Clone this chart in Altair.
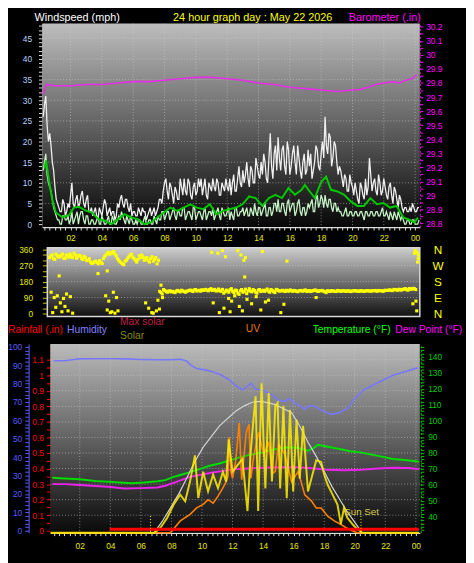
import altair as alt
import pandas as pd

W, H = 466, 555
FONT = "Liberation Sans"

# ---------------- data ----------------
# wind samples every 10 minutes from 00:15, plus the samples 5 minutes later
slot_start = 0.25
slot_minutes = 10

wind_gust = [
    26, 31, 20, 19, 13, 6,
    4, 3, 5, 3, 4, 10,
    4, 7, 5, 8, 4, 7,
    3, 2, 4, 1, 3, 4,
    5, 3, 2, 3, 2, 4,
    7, 4, 6, 3, 2, 3,
    2, 3, 4, 3, 2, 4,
    3, 2, 4, 6, 8, 11,
    6, 9, 5, 8, 6, 9,
    11, 7, 10, 6, 10, 8,
    9, 7, 11, 6, 9, 11,
    8, 10, 7, 9, 11, 8,
    7, 12, 8, 14, 9, 10,
    15, 9, 13, 10, 14, 11,
    12, 15, 10, 22, 11, 19,
    21, 13, 19, 12, 18, 14,
    19, 12, 16, 11, 17, 13,
    14, 11, 15, 18, 13, 20,
    26, 17, 21, 16, 19, 12,
    13, 9, 11, 8, 10, 7,
    8, 5, 9, 6, 7, 16,
    8, 11, 7, 10, 8, 9,
    6, 10, 5, 8, 4, 6,
    3, 4, 3, 3, 4, 3,
    4,
]
wind_gust_b = [
    29, 24, 22, 15, 9, 5,
    3, 6, 2, 5, 7, 5,
    6, 4, 7, 5, 6, 3,
    4, 3, 2, 4, 2, 6,
    2, 4, 3, 1, 5, 6,
    5, 6, 4, 5, 3, 2,
    4, 2, 3, 1, 3, 2,
    4, 3, 6, 5, 10, 8,
    10, 7, 9, 6, 11, 7,
    8, 11, 7, 9, 7, 11,
    11, 9, 7, 10, 8, 9,
    11, 7, 10, 8, 9, 11,
    10, 8, 11, 10, 13, 12,
    11, 14, 10, 16, 12, 15,
    17, 11, 16, 14, 17, 13,
    16, 18, 14, 20, 12, 17,
    15, 19, 13, 15, 12, 18,
    17, 13, 19, 14, 17, 16,
    19, 22, 14, 20, 15, 14,
    11, 12, 8, 12, 9, 10,
    6, 10, 7, 11, 9, 12,
    10, 8, 12, 7, 11, 7,
    9, 7, 9, 6, 7, 4,
    4, 3, 4, 5, 3, 4,
]

wind_speed = [
    13, 17, 10, 8, 4, 2,
    1, 0, 2, 1, 0, 3,
    1, 3, 2, 3, 0, 2,
    0, 1, 0, 2, 0, 1,
    0, 2, 0, 1, 0, 2,
    3, 1, 2, 0, 1, 0,
    0, 1, 0, 2, 0, 1,
    0, 1, 2, 1, 3, 2,
    3, 2, 4, 1, 3, 2,
    4, 2, 3, 1, 4, 2,
    3, 1, 4, 2, 3, 4,
    2, 4, 1, 3, 2, 4,
    3, 1, 4, 2, 3, 2,
    4, 2, 3, 5, 2, 4,
    3, 5, 2, 4, 3, 5,
    6, 3, 5, 2, 6, 4,
    5, 3, 6, 2, 4, 3,
    4, 6, 3, 7, 5, 6,
    7, 4, 6, 3, 5, 4,
    3, 2, 4, 2, 3, 2,
    3, 2, 3, 1, 3, 2,
    3, 2, 3, 2, 4, 2,
    2, 3, 1, 2, 3, 1,
    1, 0, 1, 0, 1, 0,
    1,
]
wind_speed_b = [
    15, 12, 9, 6, 3, 1,
    0, 2, 1, 2, 1, 0,
    2, 0, 3, 1, 2, 0,
    1, 0, 1, 0, 2, 0,
    1, 0, 2, 0, 1, 1,
    2, 0, 1, 2, 0, 1,
    1, 0, 1, 0, 1, 0,
    2, 0, 1, 3, 1, 3,
    1, 3, 2, 3, 2, 4,
    1, 3, 2, 4, 1, 3,
    2, 3, 1, 3, 2, 1,
    3, 2, 4, 2, 3, 1,
    2, 4, 2, 3, 4, 3,
    2, 4, 2, 3, 4, 2,
    4, 2, 4, 2, 5, 3,
    3, 5, 3, 5, 3, 5,
    2, 5, 3, 4, 2, 5,
    5, 3, 6, 4, 7, 4,
    5, 6, 4, 5, 3, 3,
    2, 3, 2, 3, 2, 3,
    2, 3, 2, 3, 2, 3,
    2, 3, 2, 3, 2, 3,
    1, 2, 3, 1, 2, 2,
    0, 1, 0, 1, 0, 0,
]

wind_avg_hours = [0.33, 0.43, 0.64, 0.85, 1.06, 1.48, 1.89, 2.21, 2.52, 2.94, 3.36, 3.78,
                  4.20, 4.62, 5.03, 5.45, 5.87, 6.29, 6.71, 7.13, 7.54, 7.96, 8.38, 8.80,
                  9.22, 9.64, 10.06, 10.47, 10.89, 11.31, 11.73, 12.15, 12.57, 12.98, 13.40,
                  13.82, 14.24, 14.66, 15.08, 15.50, 15.91, 16.33, 16.75, 16.96, 17.27, 17.59,
                  18.01, 18.32, 18.63, 19.05, 19.47, 19.89, 20.31, 20.73, 21.14, 21.56, 21.98,
                  22.40, 22.82, 23.24, 23.66, 23.97, 24.18]
wind_avg = [13.5, 15.4, 10.0, 5.5, 2.8, 1.6, 2.2, 4.0, 4.2, 3.3, 2.8, 1.2,
            0.8, 0.0, 1.2, 2.4, 1.6, 1.2, 0.0, 0.4, 1.6, 2.8, 4.0, 3.2,
            4.0, 4.8, 4.0, 3.6, 4.8, 2.4, 3.2, 3.6, 4.0, 4.8, 6.7,
            6.3, 4.4, 6.3, 7.1, 6.3, 8.7, 7.1, 8.3, 9.5, 7.9, 6.3,
            10.3, 11.5, 8.3, 7.9, 7.1, 5.5, 4.4, 4.4, 6.3, 4.8, 5.1,
            4.0, 4.4, 1.6, 1.0, 0.4, 1.6]

baro_hours = [0.25, 0.45, 1, 2, 3, 4, 5, 6, 7, 8, 9, 10, 11, 12, 13, 14, 15, 16, 17,
              18, 19, 20, 20.5, 21, 21.5, 22, 22.6, 23, 23.4, 23.8, 24.1]
baro = [29.72, 29.79, 29.78, 29.78, 29.79, 29.79, 29.80, 29.81, 29.81, 29.82, 29.83,
        29.84, 29.84, 29.83, 29.82, 29.80, 29.79, 29.77, 29.76, 29.75, 29.74, 29.75,
        29.755, 29.77, 29.79, 29.80, 29.81, 29.80, 29.82, 29.83, 29.86]

wind_dir = [
    315, 330, 305, 325, 320, 335,
    310, 325, 335, 315, 330, 320,
    325, 305, 315, 300, 290, 285,
    295, 280, 290, 310, 330, 345,
    340, 350, 325, 300, 285, 275,
    300, 320, 335, 310, 290, 325,
    330, 300, 315, 290, 320, 305,
    280, 125, 110, 130, 120, 128,
    125, 118, 130, 122, 128, 120,
    127, 132, 124, 135, 129, 126,
    130, 136, 128, 140, 133, 127,
    138, 125, 115, 132, 120, 140,
    118, 130, 108, 135, 125, 112,
    140, 122, 130, 115, 135, 128,
    125, 138, 120, 130, 118, 133,
    126, 131, 124, 128, 133, 125,
    128, 123, 130, 126, 132, 127,
    124, 129, 131, 125, 128, 126,
    118, 126, 129, 127, 124, 128,
    126, 128, 125, 127, 126, 129,
    127, 125, 128, 126, 129, 127,
    128, 130, 126, 129, 127, 131,
    130, 133, 129, 135, 131, 134,
    136, 140, 132, 138, 142, 135,
    330,
]
wind_dir_b = [
    325, 310, 335, 318, 328, 312,
    330, 318, 322, 340, 312, 328,
    310, 322, 298, 308, 282, 292,
    288, 298, 282, 322, 338, 335,
    345, 335, 310, 292, 280, 295,
    312, 330, 318, 300, 305, 315,
    318, 308, 298, 310, 295, 315,
    300, 118, 135, 124, 126, 122,
    121, 127, 125, 131, 124, 126,
    130, 128, 133, 127, 131, 134,
    133, 131, 135, 130, 136, 129,
    128, 136, 122, 127, 134, 125,
    132, 115, 128, 120, 137, 128,
    126, 135, 120, 132, 124, 131,
    131, 126, 135, 123, 136, 128,
    129, 127, 131, 126, 129, 130,
    125, 129, 127, 131, 124, 129,
    127, 132, 126, 129, 130, 123,
    129, 124, 127, 125, 130, 126,
    128, 126, 129, 124, 127, 128,
    126, 129, 125, 127, 128, 126,
    129, 127, 130, 128, 126, 130,
    132, 130, 136, 133, 137, 132,
    138, 134, 141, 137, 140, 345,
]
dir_extra_hours = [0.35, 0.45, 0.55, 0.65, 0.75, 0.87, 0.95, 1.05, 1.15, 1.25, 1.35, 1.45, 1.6, 1.75,
                   3.4, 3.9, 4.0, 4.1, 4.2, 4.3, 4.4, 4.5, 4.6, 4.7, 4.0,
                   6.5, 6.7, 6.9, 7.0, 7.2, 7.3, 7.4, 7.5, 7.6,
                   10.8, 10.9, 11.2, 11.3, 11.5, 11.6, 11.7, 11.9, 12.0, 12.1, 12.3, 12.5, 12.6,
                   12.7, 12.8, 12.9, 12.95, 13.0, 13.1, 13.4, 13.7, 14.0, 14.1, 14.3, 14.5,
                   15.3, 15.5, 15.7, 17.6, 23.9,
                   24.0, 24.05, 24.1, 24.15, 24.2, 24.25]
dir_extra = [120, 5, 90, 35, 100, 212, 60, 10, 85, 40, 110, 15, 95, 2,
             225, 100, 20, 70, 5, 10, 120, 2, 90, 15, 240,
             60, 30, 5, 2, 15, 75, 25, 160, 90,
             345, 60, 340, 5, 355, 30, 320, 85, 10, 70, 100, 355, 40,
             330, 15, 300, 206, 315, 80, 55, 95, 20, 350, 65, 75,
             5, 52, 295, 90, 55,
             340, 355, 70, 15, 290, 310]

hum_hours = [0.3, 1, 1.5, 2, 3, 4, 5, 6, 7, 8, 8.6, 9.0, 9.3, 9.65, 10.2, 10.7, 11.2, 11.8,
             12.2, 12.65, 12.9, 13.2, 13.5, 13.94, 14.3, 14.58, 15.0, 15.44, 15.7, 16.08,
             16.4, 16.73, 17.0, 17.37, 17.7, 18.01, 18.44, 18.98, 19.51, 19.94, 20.58,
             21.44, 22.51, 23.59, 24.12]
humidity = [92.5, 92.5, 93, 93.5, 93.6, 93.6, 93.5, 93.2, 93, 93, 93.3, 92.3, 90, 88.2,
            87.5, 86.5, 85, 82, 79, 76.6, 78, 80.2, 77, 76.6, 75, 74, 71, 70.4, 72, 69.5,
            68, 66, 68, 67.7, 66, 65, 63.3, 64.2, 66.5, 71.3, 76.6, 80.2, 84.6, 87.3, 88.6]

temp_hours = [0.2, 1, 2, 3, 3.9, 4.6, 5.4, 6.2, 7.1, 7.6, 8.15, 8.7, 9.22, 9.9, 10.5, 11.2,
              11.8, 12.4, 12.9, 13.5, 13.94, 14.4, 14.8, 15.44, 16.08, 16.5, 16.94, 17.3,
              17.58, 18.23, 19.09, 19.7, 20.37, 21.44, 22.51, 23.3, 24.0, 24.2]
temperature = [64.5, 64, 63.5, 62.5, 62, 61.5, 61, 61.5, 62.3, 63, 65, 66.5, 68, 70, 72,
               73.5, 75.2, 77, 78.3, 79.5, 80.3, 81.5, 82.3, 83.4, 83.4, 82.5, 81.3, 83,
               85, 83.8, 82.3, 81, 80.3, 78.3, 76.2, 75.5, 74.8, 74.5]

dew_hours = [0.2, 1, 2, 3, 3.86, 4.94, 6, 7.08, 7.6, 8.15, 9.22, 10.51, 11.79, 12.5, 13.94,
             15, 16.08, 17, 18.23, 19.3, 20.37, 21.5, 22.51, 23.5, 24.0, 24.2]
dew_point = [60.5, 60.5, 60, 59.3, 58.8, 57.8, 58, 58.4, 59.5, 61.3, 65, 67.4, 69.4, 70,
             70.7, 71, 71.1, 70.5, 69.4, 69.1, 69.4, 70.2, 70.7, 70.5, 70.1, 70]

maxsolar_hours = [6.87, 7.4, 7.94, 8.5, 9.0, 9.5, 10.08, 11.15, 12.22, 12.8, 13.3, 13.8,
                  14.37, 14.8, 15.87, 16.4, 16.94, 17.5, 18.01, 18.5, 19.09, 19.5, 19.94, 20.48]
max_solar = [0, 80, 177, 280, 387, 500, 609, 761, 866, 905, 929, 935,
             924, 912, 854, 760, 644, 540, 434, 330, 224, 150, 84, 0]

solar_hours = [0.1, 6.5, 6.9, 7.29, 7.72, 8.15, 8.58, 8.9, 9.22, 9.54, 9.76, 10.08, 10.4,
               10.73, 11.05, 11.37, 11.58, 11.75, 12.0, 12.33, 12.65, 12.98, 13.19, 13.35,
               13.51, 13.68, 13.9, 14.05, 14.15, 14.37, 14.58, 14.8, 14.95, 15.12, 15.33,
               15.55, 15.76, 15.97, 16.19, 16.4, 16.62, 16.8, 16.94, 17.16, 17.48, 17.8,
               18.01, 18.23, 18.55, 18.87, 19.09, 19.3, 19.51, 19.94, 20.48, 24.2]
solar = [0, 0, 0, 37, 105, 201, 271, 224, 364, 551, 247, 434, 294,
         413, 317, 434, 364, 665, 434, 481, 525, 154, 574, 780,
         971, 154, 1064, 600, 315, 994, 364, 901, 924, 315, 903,
         245, 875, 294, 805, 385, 761, 500, 294, 385, 516, 504,
         411, 341, 271, 201, 61, 177, 107, 49, 0, 0]

uv_hours = [0.1, 7.94, 8.58, 9.22, 9.65, 10.08, 10.4, 10.73, 11.05, 11.37, 11.58, 11.7,
            11.79, 11.9, 12.0, 12.2, 12.44, 12.6, 12.9, 13.08, 13.2, 13.4, 13.72, 14.04,
            14.37, 14.6, 14.8, 15.0, 15.23, 15.44, 15.87, 16.3, 16.73, 17.16, 17.48, 17.8,
            18.23, 18.66, 19.09, 19.41, 19.83, 20.16, 24.2]
uv_index = [0, 0, 1.0, 1.56, 2.1, 2.4, 2.8, 2.5, 3.1, 3.8, 4.3, 4.8,
            8.1, 5.2, 4.6, 6.0, 9.3, 4.5, 8.5, 9.2, 4.6, 6.6, 8.5, 6.6,
            7.7, 5.0, 5.2, 7.5, 7.1, 6.6, 4.3, 5.2, 3.2, 2.7, 2.1, 2.1,
            1.4, 1.0, 0.7, 0.44, 0.17, 0, 0]

rain_hours = [3.95, 24.2]
rainfall = [0.01, 0.01]

sun_hours = [6.63, 20.41]

title_texts = ["Windspeed (mph)", "24 hour graph day : May 22 2026", "Barometer (.in)"]
legend_texts = ["Rainfall (.in)", "Humidity", "Max solar", "Solar", "UV",
                "Temperature (°F)", "Dew Point (°F)"]
compass_labels = ["N", "E", "S", "W", "N"]

# ---------------- helpers ----------------
ONE = pd.DataFrame({"a": [0]})


def S(domain, rng):
    return alt.Scale(domain=domain, range=rng, nice=False, zero=False)


X1 = S([0.2, 24.3], [35, 419])
X2 = S([0.1, 24.35], [40, 419])
X3 = S([0.07, 24.26], [43, 419])
Y_WIND = S([-0.71, 48.57], [218, 11])
Y_BARO = S([28.7755, 30.223], [218, 11])
Y_DIR = S([-16.6, 371.1], [309, 239])
Y_HUM = S([-1.07, 101.6], [529, 337])
Y_RAIN = S([-0.0126, 1.201], [529, 337])
Y_TEMP = S([30.18, 147.98], [529, 337])
Y_SOLAR = S([0, 1344], [529, 337])
Y_UV = S([0, 16], [529, 337])


def bg(x0, x1, y0, y1, top, bottom, stroke=None):
    grad = alt.LinearGradient(
        gradient="linear",
        stops=[alt.GradientStop(color=top, offset=0), alt.GradientStop(color=bottom, offset=1)],
        x1=0, x2=0, y1=0, y2=1)
    kw = {"fill": grad}
    if stroke:
        kw["stroke"] = stroke
        kw["strokeWidth"] = 1.5
    return alt.Chart(ONE).mark_rect(**kw).encode(
        x=alt.value(x0), x2=alt.value(x1), y=alt.value(y0), y2=alt.value(y1))


def hgrid(values, ys, x0, x1, yaxis=None):
    return alt.Chart(pd.DataFrame({"v": values})).mark_rule(
        color="#d0d0d0", strokeDash=[1, 2], opacity=0.55, strokeWidth=1).encode(
        y=alt.Y("v:Q", scale=ys, axis=yaxis), x=alt.value(x0), x2=alt.value(x1))


def vgrid(values, xs, y0, y1):
    return alt.Chart(pd.DataFrame({"v": values})).mark_rule(
        color="#d0d0d0", strokeDash=[1, 2], opacity=0.55, strokeWidth=1).encode(
        x=alt.X("v:Q", scale=xs, axis=None), y=alt.value(y0), y2=alt.value(y1))


def line(xs_vals, ys_vals, xs, ys, color, width, xaxis=None, yaxis=None, opacity=1.0):
    df = pd.DataFrame({"h": xs_vals, "v": ys_vals})
    return alt.Chart(df).mark_line(color=color, strokeWidth=width, opacity=opacity).encode(
        x=alt.X("h:Q", scale=xs, axis=xaxis), y=alt.Y("v:Q", scale=ys, axis=yaxis))


def txt(s, x, y, color, align="left", size=11):
    return alt.Chart(pd.DataFrame({"t": [s]})).mark_text(
        align=align, baseline="middle", color=color, fontSize=size, font=FONT).encode(
        text="t:N", x=alt.value(x), y=alt.value(y))


HOUR_LABEL = ("abs(datum.value - round(datum.value)) < 0.01 && round(datum.value) % 2 == 0 ? "
              "((round(datum.value) % 24) < 10 ? '0' : '') + (round(datum.value) % 24) : ''")
time_ticks = [round(k / 3, 4) for k in range(1, 73)]


def time_axis(bottom_px, pad):
    return alt.Axis(orient="bottom", offset=bottom_px - H, values=time_ticks, labelExpr=HOUR_LABEL,
                    labelColor="#e8e800", labelFontSize=8.5, labelFont=FONT, tickColor="#e0e0e0",
                    tickSize=3, domainColor="#e0e0e0", domainWidth=1.5, labelPadding=pad,
                    grid=False, labelOverlap=False, labelFlush=False, labelBound=False, title=None)


def num_axis(orient, offset, values, every, color, tick, pad, dash=None, label_color=None,
             minimum=None):
    cond = f"abs(datum.value / {every} - round(datum.value / {every})) < 0.001"
    if minimum is not None:
        cond += f" && datum.value >= {minimum}"
    kw = dict(orient=orient, offset=offset, values=values,
              labelExpr=f"{cond} ? format(datum.value, '~g') : ''",
              labelColor=label_color or color, labelFontSize=8.5, labelFont=FONT,
              tickColor=color, tickSize=tick, domainColor=color, labelPadding=pad,
              grid=False, labelOverlap=False, labelFlush=False, labelBound=False, title=None)
    if dash:
        kw["domainDash"] = dash
    return alt.Axis(**kw)


hours_slots = [slot_start + i * slot_minutes / 60 for i in range(len(wind_gust))]
hours_half = [slot_start + (i + 0.5) * slot_minutes / 60 for i in range(len(wind_gust_b))]
even_hours = list(range(2, 25, 2))

layers = []

# ---------- panel 1: wind + barometer ----------
layers.append(bg(35, 419, 11, 218, "#bdbdbd", "#070707"))
layers.append(hgrid(list(range(5, 50, 5)), Y_WIND, 35, 419))
layers.append(vgrid(even_hours, X1, 11, 218))
layers.append(line(hours_slots + hours_half, wind_gust + wind_gust_b, X1, Y_WIND, "#f0f0f0", 1.3,
                   xaxis=time_axis(218, 4),
                   yaxis=num_axis("left", -35, list(range(0, 49)), 5, "#e0e0e0", 4, 7,
                                  label_color="#b4d2ff")))
layers.append(line(hours_slots + hours_half, wind_speed + wind_speed_b, X1, Y_WIND, "#c4f2c4", 1.3))
layers.append(line(wind_avg_hours, wind_avg, X1, Y_WIND, "#00c800", 2))
layers.append(line(baro_hours, baro, X1, Y_BARO, "#e62ee6", 1.6,
                   yaxis=num_axis("right", 419 - W, [round(28.8 + 0.05 * i, 2) for i in range(29)],
                                  0.1, "#ff00ff", 3, 3, dash=[2, 2])))

layers.append(txt(title_texts[0], 27, 5, "#ffffff"))
layers.append(txt(title_texts[1], 168, 5, "#ffff00"))
layers.append(txt(title_texts[2], 420, 5, "#ff00ff", align="right"))

# ---------- panel 2: wind direction ----------
layers.append(bg(40, 419, 239, 309, "#cdcdcd", "#111111", stroke="#d8d8d8"))
layers.append(hgrid([90, 180, 270], Y_DIR, 40, 419,
                    yaxis=alt.Axis(orient="right", offset=419 - W, values=[0, 90, 180, 270, 360],
                                   labelExpr="['N','E','S','W','N'][round(datum.value / 90)]",
                                   labelColor="#ffff00", labelFontSize=12, labelFont=FONT,
                                   labelAlign="center", labelPadding=18, ticks=False,
                                   domain=False, grid=False, labelOverlap=False,
                                   labelFlush=False, title=None)))
dir_df = pd.DataFrame({"h": hours_slots + hours_half + dir_extra_hours,
                       "d": wind_dir + wind_dir_b + dir_extra})
layers.append(alt.Chart(dir_df).mark_square(size=10, color="#ffff00", opacity=1).encode(
    x=alt.X("h:Q", scale=X2, axis=None),
    y=alt.Y("d:Q", scale=Y_DIR,
            axis=num_axis("left", -40, list(range(0, 361, 30)), 90, "#c8c800", 5, 10,
                          label_color="#e8e800"))))

# ---------- panel 3: rain / humidity / solar / UV / temperature ----------
layers.append(txt(legend_texts[0], 0, 323, "#ff0000", size=10.5))
layers.append(txt(legend_texts[1], 60, 323, "#8080ff", size=10.5))
layers.append(txt(legend_texts[2], 114, 315, "#c0204a", size=10.5))
layers.append(txt(legend_texts[3], 114, 329, "#8a8a10", size=10.5))
layers.append(txt(legend_texts[4], 242, 322, "#e87800", size=10.5))
layers.append(txt(legend_texts[5], 310, 323, "#00ff00", size=10.5))
layers.append(txt(legend_texts[6], 394, 323, "#ff00ff", size=10.5))

layers.append(bg(43, 419, 337, 529, "#bbbbbb", "#0a0a0a"))
layers.append(hgrid([round(0.1 * i, 1) for i in range(1, 12)], Y_RAIN, 43, 419))
layers.append(vgrid(even_hours, X3, 337, 529))
layers.append(line(hum_hours, humidity, X3, Y_HUM, "#7878ff", 1.6,
                   yaxis=num_axis("left", -21, list(range(0, 101, 2)), 10, "#5a5aff", 4, 3)))
layers.append(line(dew_hours, dew_point, X3, Y_TEMP, "#ee22ee", 2))
layers.append(line(temp_hours, temperature, X3, Y_TEMP, "#00dd00", 2,
                   xaxis=time_axis(529, 6),
                   yaxis=num_axis("right", 420 - W, list(range(32, 147, 2)), 10, "#00cc00", 3, 4,
                                  dash=[2, 2], minimum=40)))
layers.append(line(maxsolar_hours, max_solar, X3, Y_SOLAR, "#d4d4d4", 1.2))
layers.append(line(uv_hours, uv_index, X3, Y_UV, "#ff8000", 1.6))
layers.append(line(solar_hours, solar, X3, Y_SOLAR, "#ffee00", 2, opacity=0.85))
layers.append(line(rain_hours, rainfall, X3, Y_RAIN, "#ff0000", 3,
                   yaxis=num_axis("left", -43, [round(0.05 * i, 2) for i in range(23)], 0.1,
                                  "#ff0000", 4, 3, dash=[2, 2])))
layers.append(alt.Chart(pd.DataFrame({"h": sun_hours})).mark_rule(
    color="#ffff00", strokeDash=[1, 2], strokeWidth=1).encode(
    x=alt.X("h:Q", scale=X3, axis=None), y=alt.value(512), y2=alt.value(529)))
layers.append(txt("Sun Set", 342, 508, "#d8c850", size=10))

chart = alt.layer(*layers).resolve_scale(x="independent", y="independent").properties(
    width=W, height=H, background="black", padding=0,
    autosize=alt.AutoSizeParams(type="none")
).configure_view(strokeWidth=0)

chart.save("out.html", embed_options={"renderer": "svg", "actions": False})
